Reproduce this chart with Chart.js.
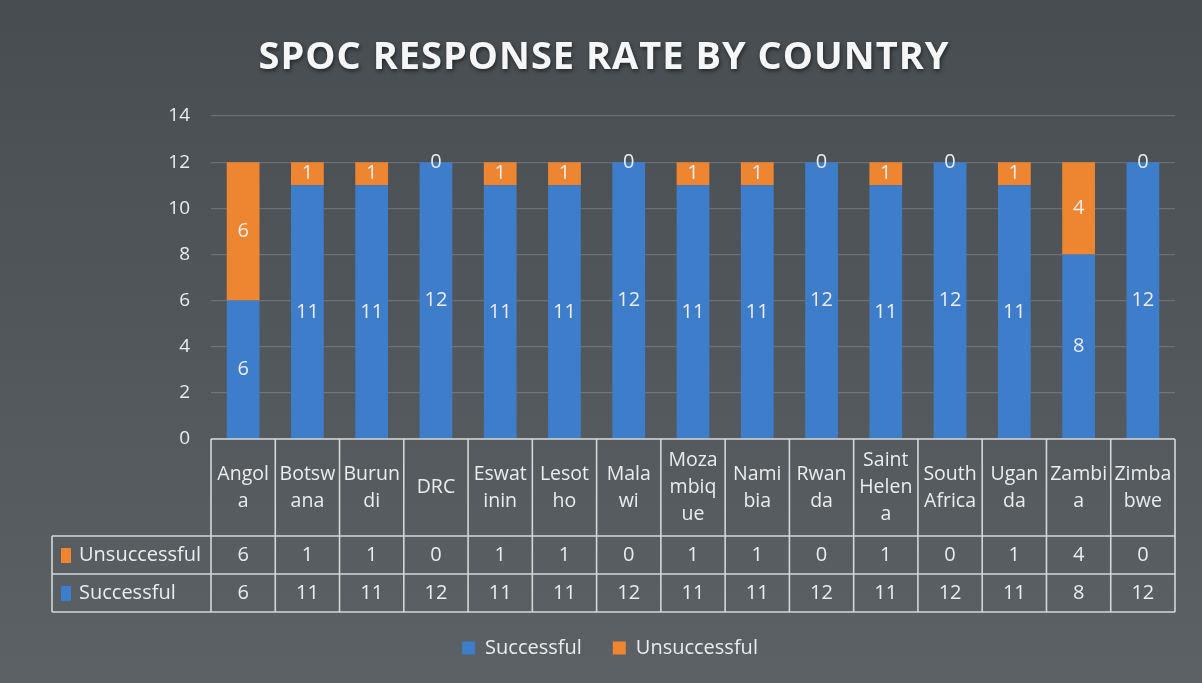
<!DOCTYPE html>
<html>
<head>
<meta charset="utf-8">
<script src="https://cdn.jsdelivr.net/npm/chart.js@4/dist/chart.umd.min.js"></script>
<style>
  html, body { margin: 0; padding: 0; }
  body {
    width: 1202px; height: 683px; overflow: hidden;
    background: linear-gradient(180deg, #474d51 0%, #51575b 50%, #5b6165 100%);
  }
  #wrap { position: absolute; left: 0; top: 0; width: 1202px; height: 683px; }
</style>
</head>
<body>
<div id="wrap"><canvas id="chart"></canvas></div>
<script>
// categories as they wrap in the data table
const countries = [
  ['Angol', 'a'], ['Botsw', 'ana'], ['Burun', 'di'], ['DRC'], ['Eswat', 'inin'],
  ['Lesot', 'ho'], ['Mala', 'wi'], ['Moza', 'mbiq', 'ue'], ['Nami', 'bia'], ['Rwan', 'da'],
  ['Saint', 'Helen', 'a'], ['South', 'Africa'], ['Ugan', 'da'], ['Zambi', 'a'], ['Zimba', 'bwe']
];
const successful   = [6, 11, 11, 12, 11, 11, 12, 11, 11, 12, 11, 12, 11, 8, 12];
const unsuccessful = [6, 1, 1, 0, 1, 1, 0, 1, 1, 0, 1, 0, 1, 4, 0];
const yTicks = [0, 2, 4, 6, 8, 10, 12, 14];
const titleText = 'SPOC RESPONSE RATE BY COUNTRY';

const BLUE   = '#3e7dc9';
const ORANGE = '#ee8631';
const TEXT   = '#ececec';
const LINE   = '#d6d6d6';
const FONT   = "'Open Sans', 'Noto Sans', sans-serif";

// title drawn by hand so it can sit centred on the whole picture
const titlePlugin = {
  id: 'titlePlugin',
  afterDraw(chart) {
    const ctx = chart.ctx;
    ctx.save();
    ctx.font = `bold 38px ${FONT}`;
    ctx.letterSpacing = '1px';
    ctx.textAlign = 'center';
    ctx.textBaseline = 'middle';
    ctx.shadowColor = 'rgba(0,0,0,0.55)';
    ctx.shadowBlur = 4;
    ctx.shadowOffsetX = 1;
    ctx.shadowOffsetY = 2;
    ctx.fillStyle = '#f6f6f6';
    ctx.fillText(titleText, 604, 58);
    ctx.restore();
  }
};

// numbers in the middle of each bar segment
const segmentLabels = {
  id: 'segmentLabels',
  afterDatasetsDraw(chart) {
    const ctx = chart.ctx;
    ctx.save();
    ctx.font = `20px ${FONT}`;
    ctx.fillStyle = TEXT;
    ctx.textAlign = 'center';
    ctx.textBaseline = 'middle';
    chart.data.datasets.forEach((ds, di) => {
      chart.getDatasetMeta(di).data.forEach((bar, i) => {
        const y = (bar.y + bar.base) / 2;
        ctx.fillText(String(ds.data[i]), bar.x, y);
      });
    });
    ctx.restore();
  }
};

// data table under the plot
const dataTable = {
  id: 'dataTable',
  afterDraw(chart) {
    const ctx = chart.ctx;
    const x = chart.scales.x;
    const top = x.top;
    const headH = 97, rowH = 38;
    const y1 = top + headH, y2 = y1 + rowH, y3 = y2 + rowH;
    const labelLeft = 52;
    const n = countries.length;
    const cw = (x.right - x.left) / n;

    ctx.save();
    ctx.strokeStyle = LINE;
    ctx.lineWidth = 1.6;
    ctx.beginPath();
    ctx.moveTo(x.left, top); ctx.lineTo(x.right, top);
    [y1, y2, y3].forEach(y => { ctx.moveTo(labelLeft, y); ctx.lineTo(x.right, y); });
    for (let i = 0; i <= n; i++) {
      const px = x.left + i * cw;
      ctx.moveTo(px, top); ctx.lineTo(px, y3);
    }
    ctx.moveTo(labelLeft, y1); ctx.lineTo(labelLeft, y3);
    ctx.stroke();

    ctx.fillStyle = TEXT;
    ctx.textAlign = 'center';
    ctx.textBaseline = 'middle';
    ctx.font = `19.5px ${FONT}`;
    const lh = 27;
    countries.forEach((lines, i) => {
      const cx = x.getPixelForValue(i);
      const start = top + headH / 2 - (lines.length - 1) * lh / 2;
      lines.forEach((t, k) => ctx.fillText(t, cx, start + k * lh));
    });

    ctx.font = `20px ${FONT}`;
    unsuccessful.forEach((v, i) => ctx.fillText(String(v), x.getPixelForValue(i), y1 + rowH / 2));
    successful.forEach((v, i) => ctx.fillText(String(v), x.getPixelForValue(i), y2 + rowH / 2));

    // row headers with colour keys
    ctx.textAlign = 'left';
    ctx.font = `20px ${FONT}`;
    ctx.fillStyle = ORANGE;
    ctx.fillRect(61, y1 + rowH / 2 - 7, 10, 15);
    ctx.fillStyle = BLUE;
    ctx.fillRect(61, y2 + rowH / 2 - 7, 10, 15);
    ctx.fillStyle = TEXT;
    ctx.fillText('Unsuccessful', 79, y1 + rowH / 2);
    ctx.fillText('Successful', 79, y2 + rowH / 2);
    ctx.restore();
  }
};

new Chart(document.getElementById('chart'), {
  type: 'bar',
  data: {
    labels: countries,
    datasets: [
      { label: 'Successful', data: successful, backgroundColor: BLUE,
        categoryPercentage: 1, barPercentage: 0.51 },
      { label: 'Unsuccessful', data: unsuccessful, backgroundColor: ORANGE,
        categoryPercentage: 1, barPercentage: 0.51 }
    ]
  },
  options: {
    responsive: true,
    maintainAspectRatio: false,
    animation: false,
    layout: { padding: { left: 45, right: 27, top: 116, bottom: 15 } },
    plugins: {
      title: { display: false },
      legend: {
        position: 'bottom',
        labels: {
          color: TEXT,
          font: { family: FONT, size: 20 },
          boxWidth: 13, boxHeight: 13,
          padding: 31,
          useBorderRadius: false
        }
      },
      tooltip: { enabled: false }
    },
    scales: {
      x: {
        stacked: true,
        grid: { display: false },
        border: { display: false },
        ticks: { display: false },
        afterFit(scale) { scale.height = 168; }
      },
      y: {
        stacked: true,
        min: 0, max: 14,
        afterBuildTicks(scale) { scale.ticks = yTicks.map(v => ({ value: v })); },
        afterFit(scale) { scale.width = 166; },
        grid: { color: 'rgba(255,255,255,0.17)', drawTicks: false, lineWidth: 1.2 },
        border: { display: false },
        ticks: { color: TEXT, font: { family: FONT, size: 19 }, padding: 21 }
      }
    }
  },
  plugins: [segmentLabels, dataTable, titlePlugin]
});
</script>
</body>
</html>
